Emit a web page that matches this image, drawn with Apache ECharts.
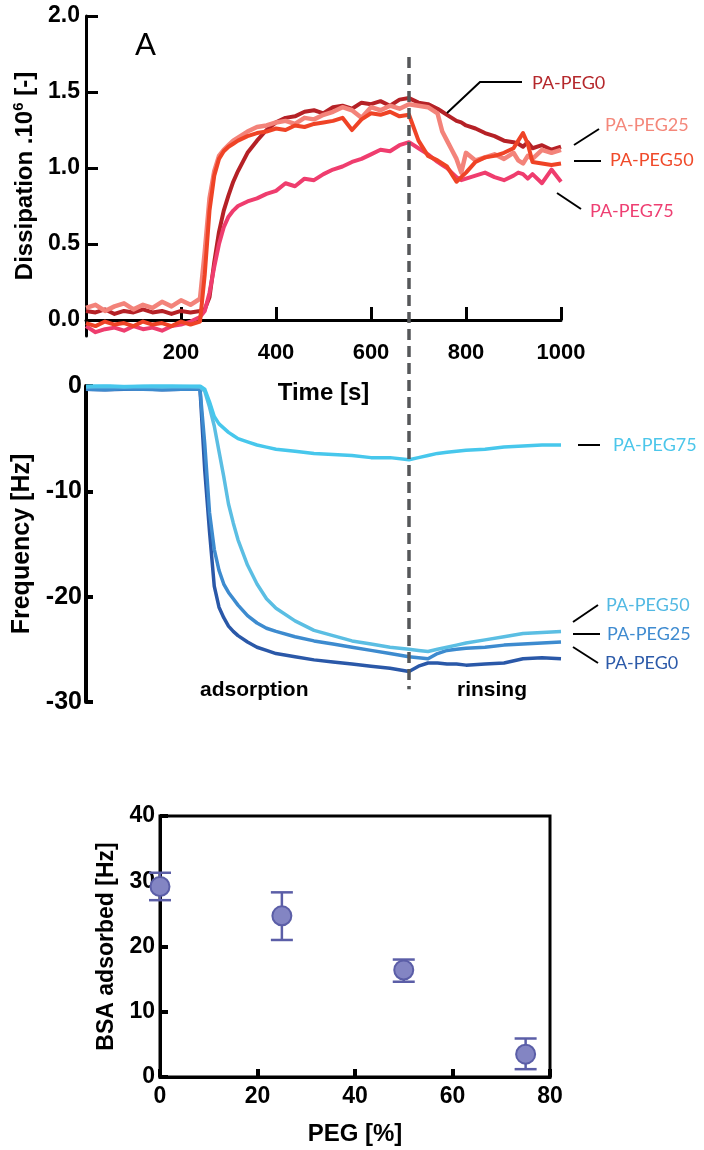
<!DOCTYPE html>
<html>
<head>
<meta charset="utf-8">
<script src="https://cdn.jsdelivr.net/npm/echarts@6/dist/echarts.min.js"></script>
<style>
  html, body { margin: 0; padding: 0; background: #fff; }
  #main { width: 704px; height: 1150px; }
</style>
</head>
<body>
<div id="main"></div>
<script>
// --- dissipation (top panel), time in s
const tTop = [0,20,40,60,80,100,120,140,160,180,200,220,240,250,260,270,280,290,300,310,320,340,360,380,400,420,440,460,480,500,520,540,560,580,600,620,640,660,680,700,720,740,750,760,770,780,790,800,820,840,860,880,900,910,920,930,940,960,980,1000];
const dissPEG0 = [0.06,0.05,0.07,0.04,0.06,0.05,0.07,0.05,0.06,0.04,0.06,0.05,0.06,
  0.07,0.15,0.38,0.58,0.72,0.82,0.91,0.98,
  1.10,1.18,1.25,1.30,1.33,1.34,1.37,1.38,1.36,1.40,1.41,1.39,1.43,1.42,1.44,1.41,1.45,1.46,1.43,1.42,1.39,
  1.37,1.35,1.33,1.31,1.30,1.28,
  1.26,1.23,1.21,1.18,1.17,
  1.16,1.14,1.17,1.13,
  1.15,1.12,1.14];
const dissPEG25 = [0.08,0.10,0.06,0.09,0.11,0.07,0.10,0.08,0.12,0.09,0.13,0.10,0.14,
  0.45,0.80,0.98,1.08,1.12,1.15,1.18,1.20,
  1.24,1.27,1.28,1.30,1.31,1.29,1.33,1.32,1.35,1.37,1.40,1.38,1.33,1.40,1.38,1.41,1.39,1.42,1.41,1.40,1.36,
  1.24,1.18,1.12,1.06,0.97,1.10,
  1.05,1.07,1.09,1.06,1.10,
  1.05,1.03,1.08,1.06,
  1.12,1.10,1.12];
const dissPEG50 = [-0.02,-0.04,-0.01,-0.03,-0.02,-0.04,-0.01,-0.03,-0.02,-0.04,-0.01,-0.03,-0.01,
  0.30,0.72,0.95,1.06,1.11,1.14,1.16,1.18,
  1.21,1.23,1.24,1.26,1.25,1.28,1.27,1.29,1.30,1.31,1.33,1.25,1.32,1.36,1.35,1.37,1.34,1.35,1.18,1.08,1.05,
  1.03,1.01,0.96,0.91,0.94,0.97,
  1.04,1.07,1.08,1.10,1.13,
  1.18,1.23,1.16,1.04,
  1.03,1.02,1.03];
const dissPEG75 = [-0.04,-0.08,-0.06,-0.05,-0.07,-0.04,-0.06,-0.05,-0.07,-0.04,-0.03,-0.01,0.02,
  0.06,0.18,0.35,0.50,0.61,0.68,0.72,0.75,
  0.78,0.80,0.83,0.85,0.90,0.88,0.93,0.92,0.96,0.99,1.01,1.04,1.06,1.09,1.12,1.11,1.15,1.17,1.13,1.09,1.04,
  1.02,1.00,0.97,0.94,0.92,0.93,
  0.95,0.97,0.94,0.92,0.95,
  0.97,0.96,0.93,0.96,
  0.90,0.99,0.91];

// --- frequency shift (middle panel)
const tMid = [0,40,80,120,160,200,240,250,260,270,280,290,300,310,320,340,360,380,400,440,480,520,560,600,640,680,700,720,740,760,780,800,840,880,920,960,1000];
const freqPEG75 = [0.0,0.05,-0.05,0.0,0.05,0.0,0.0,
  -0.3,-1.5,-2.9,-3.6,-4.0,-4.4,-4.7,-5.0,
  -5.3,-5.6,-5.8,-6.0,
  -6.2,-6.4,-6.5,-6.6,-6.8,-6.8,-7.0,
  -6.8,-6.6,-6.4,-6.3,-6.2,-6.1,
  -6.0,-5.8,-5.7,-5.6,-5.6];
const freqPEG50 = [-0.1,-0.05,-0.1,-0.05,-0.1,-0.05,-0.1,
  -0.5,-2.0,-3.8,-6.2,-8.6,-11.2,-13.0,-14.6,
  -17.0,-18.8,-20.2,-21.1,
  -22.3,-23.2,-23.7,-24.2,-24.5,-24.8,-25.0,
  -25.1,-25.2,-25.0,-24.8,-24.6,-24.4,
  -24.1,-23.8,-23.5,-23.4,-23.3];
const freqPEG25 = [-0.3,-0.35,-0.25,-0.3,-0.35,-0.3,-0.3,
  -5.5,-12.0,-15.5,-17.5,-18.8,-19.6,-20.2,-20.8,
  -21.8,-22.5,-23.0,-23.3,
  -23.8,-24.2,-24.5,-24.8,-25.1,-25.4,-25.7,
  -25.8,-25.9,-25.4,-25.1,-25.0,-24.9,
  -24.8,-24.6,-24.5,-24.4,-24.3];
const freqPEG0 = [-0.3,-0.35,-0.3,-0.25,-0.35,-0.3,-0.3,
  -8.0,-13.8,-19.0,-21.0,-22.0,-22.8,-23.3,-23.7,
  -24.3,-24.8,-25.1,-25.4,
  -25.7,-26.0,-26.2,-26.4,-26.6,-26.8,-27.1,
  -26.6,-26.3,-26.3,-26.4,-26.4,-26.5,
  -26.4,-26.3,-25.9,-25.8,-25.9];

// --- BSA adsorbed vs PEG content (bottom panel)
const pegPct = [0, 25, 50, 75];
const bsaMean = [29.2, 24.7, 16.4, 3.5];
const bsaLow = [27.1, 21.0, 14.6, 1.2];
const bsaHigh = [31.3, 28.3, 18.0, 5.9];

const rinseStart = 680;
const topTicks = [0, 0.5, 1.0, 1.5, 2.0];
const timeTicks = [200, 400, 600, 800, 1000];

const AX = '"Liberation Sans", Arial, sans-serif';
const LBL = 'Lato, sans-serif';

const chart = echarts.init(document.getElementById('main'));

const pairs = (ts, vs) => ts.map((t, i) => [t, vs[i]]);
const line = (name, ts, vs, color, width, idx, z) => ({
  name, type: 'line', xAxisIndex: idx, yAxisIndex: idx,
  data: pairs(ts, vs), showSymbol: false, symbol: 'none',
  lineStyle: { color, width, join: 'round' }, z, animation: false
});

chart.setOption({
  animation: false,
  grid: [
    { left: 86, top: 16, width: 475, height: 320 },
    { left: 86, top: 386, width: 475, height: 316 },
    { left: 160, top: 816, width: 390, height: 261, show: true, borderColor: '#000', borderWidth: 3 }
  ],
  xAxis: [
    {
      gridIndex: 0, type: 'value', min: 0, max: 1000,
      axisLine: { lineStyle: { color: '#000', width: 3 } },
      axisTick: { inside: true, length: 13, lineStyle: { color: '#000', width: 3 }, customValues: timeTicks },
      axisLabel: { customValues: timeTicks, formatter: v => String(v), color: '#000', fontFamily: AX, fontWeight: 'bold', fontSize: 22, margin: 6 },
      splitLine: { show: false },
      name: 'Time [s]', nameLocation: 'middle', nameGap: 45,
      nameTextStyle: { color: '#000', fontFamily: AX, fontWeight: 'bold', fontSize: 24 }
    },
    { gridIndex: 1, type: 'value', min: 0, max: 1000, show: false },
    {
      gridIndex: 2, type: 'value', min: 0, max: 80, interval: 20,
      axisLine: { lineStyle: { color: '#000', width: 3 } },
      axisTick: { inside: true, length: 8, lineStyle: { color: '#000', width: 4 } },
      axisLabel: { color: '#000', fontFamily: AX, fontWeight: 'bold', fontSize: 23, margin: 8 },
      splitLine: { show: false },
      name: 'PEG [%]', nameLocation: 'middle', nameGap: 45,
      nameTextStyle: { color: '#000', fontFamily: AX, fontWeight: 'bold', fontSize: 24 }
    }
  ],
  yAxis: [
    {
      gridIndex: 0, type: 'value', min: -0.105, max: 2.0,
      axisLine: { show: true, lineStyle: { color: '#000', width: 3 } },
      axisTick: { show: true, inside: true, length: 12, lineStyle: { color: '#000', width: 3 }, customValues: topTicks },
      axisLabel: { customValues: topTicks, formatter: v => v.toFixed(1), color: '#000', fontFamily: AX, fontWeight: 'bold', fontSize: 23, margin: 6 },
      splitLine: { show: false },
      name: '{b|Dissipation .10}{s|6}{b| [-]}', nameLocation: 'middle', nameGap: 44,
      nameTextStyle: {
        rich: {
          b: { color: '#000', fontFamily: AX, fontWeight: 'bold', fontSize: 24 },
          s: { color: '#000', fontFamily: AX, fontWeight: 'bold', fontSize: 15, padding: [0, 0, 12, 0] }
        }
      }
    },
    {
      gridIndex: 1, type: 'value', min: -30, max: 0, interval: 10,
      axisLine: { show: true, lineStyle: { color: '#000', width: 4 } },
      axisTick: { show: true, inside: true, length: 7, lineStyle: { color: '#000', width: 4 } },
      axisLabel: { color: '#000', fontFamily: AX, fontWeight: 'bold', fontSize: 25, margin: 4 },
      splitLine: { show: false },
      name: 'Frequency [Hz]', nameLocation: 'middle', nameGap: 44,
      nameTextStyle: { color: '#000', fontFamily: AX, fontWeight: 'bold', fontSize: 25 }
    },
    {
      gridIndex: 2, type: 'value', min: 0, max: 40, interval: 10,
      axisLine: { show: true, lineStyle: { color: '#000', width: 3 } },
      axisTick: { show: true, inside: true, length: 8, lineStyle: { color: '#000', width: 4 } },
      axisLabel: { color: '#000', fontFamily: AX, fontWeight: 'bold', fontSize: 23, margin: 5 },
      splitLine: { show: false },
      name: 'BSA adsorbed [Hz]', nameLocation: 'middle', nameGap: 42,
      nameTextStyle: { color: '#000', fontFamily: AX, fontWeight: 'bold', fontSize: 23 }
    }
  ],
  series: [
    line('PA-PEG0', tTop, dissPEG0, '#b52126', 4, 0, 2),
    line('PA-PEG75', tTop, dissPEG75, '#ef3d6e', 4, 0, 3),
    line('PA-PEG25', tTop, dissPEG25, '#f3837a', 4.5, 0, 4),
    line('PA-PEG50', tTop, dissPEG50, '#ef4326', 4, 0, 5),

    line('PA-PEG0 f', tMid, freqPEG0, '#2a58a8', 3.5, 1, 2),
    line('PA-PEG25 f', tMid, freqPEG25, '#3d8bcf', 3.5, 1, 3),
    line('PA-PEG50 f', tMid, freqPEG50, '#5bbee3', 3.5, 1, 4),
    line('PA-PEG75 f', tMid, freqPEG75, '#47c7ec', 3.5, 1, 5),

    {
      type: 'custom', xAxisIndex: 2, yAxisIndex: 2, clip: false, z: 3,
      data: pegPct.map((p, i) => [p, bsaLow[i], bsaHigh[i]]),
      encode: { x: 0, y: [1, 2] },
      renderItem: (params, api) => {
        const lo = api.coord([api.value(0), api.value(1)]);
        const hi = api.coord([api.value(0), api.value(2)]);
        const w = 11;
        const style = { stroke: '#5b5ea7', lineWidth: 2.5 };
        return {
          type: 'group', children: [
            { type: 'line', shape: { x1: hi[0], y1: hi[1], x2: lo[0], y2: lo[1] }, style },
            { type: 'line', shape: { x1: hi[0] - w, y1: hi[1], x2: hi[0] + w, y2: hi[1] }, style },
            { type: 'line', shape: { x1: lo[0] - w, y1: lo[1], x2: lo[0] + w, y2: lo[1] }, style }
          ]
        };
      }
    },
    {
      type: 'scatter', xAxisIndex: 2, yAxisIndex: 2, clip: false, z: 4,
      data: pegPct.map((p, i) => [p, bsaMean[i]]),
      symbol: 'circle', symbolSize: 19,
      itemStyle: { color: '#8385c3', borderColor: '#5b5ea7', borderWidth: 2, opacity: 1 }
    }
  ]
});

// annotations: rinse marker, panel letter, series labels
const xr = chart.convertToPixel({ xAxisIndex: 0 }, rinseStart);
const yTopDash = chart.convertToPixel({ yAxisIndex: 0 }, 1.73);
const yBotDash = chart.convertToPixel({ yAxisIndex: 1 }, -28.8);

const lead = (pts) => ({ type: 'polyline', shape: { points: pts }, style: { stroke: '#000', lineWidth: 2, fill: null }, z: 50 });
const tag = (text, x, y, fill) => ({ type: 'text', x, y, style: { text, fill, font: '18px ' + LBL, verticalAlign: 'middle' }, z: 50 });

chart.setOption({
  graphic: [
    { type: 'line', shape: { x1: xr, y1: yTopDash, x2: xr, y2: yBotDash },
      style: { stroke: '#555759', lineWidth: 3.5, lineDash: [11, 6] }, z: 100 },
    { type: 'text', x: 135, y: 45, style: { text: 'A', fill: '#000', font: '31px ' + LBL, verticalAlign: 'middle' }, z: 50 },

    lead([[447, 113], [480, 82], [522, 82]]),
    tag('PA-PEG0', 532, 83, '#b5282c'),
    lead([[574, 145], [599, 129]]),
    tag('PA-PEG25', 605, 125, '#f4877a'),
    lead([[574, 161], [601, 161]]),
    tag('PA-PEG50', 610, 160, '#f04a2a'),
    lead([[557, 193], [581, 209]]),
    tag('PA-PEG75', 590, 211, '#ee3f72'),

    lead([[578, 445], [600, 445]]),
    tag('PA-PEG75', 613, 445, '#4cc6ea'),
    lead([[573, 622], [598, 605]]),
    tag('PA-PEG50', 606, 605, '#52b9e3'),
    lead([[573, 634], [600, 634]]),
    tag('PA-PEG25', 607, 634, '#3f8bd0'),
    lead([[573, 647], [598, 663]]),
    tag('PA-PEG0', 605, 663, '#2c5aa9'),

    { type: 'text', x: 200, y: 690, style: { text: 'adsorption', fill: '#000', font: 'bold 21px ' + AX, verticalAlign: 'middle' }, z: 50 },
    { type: 'text', x: 457, y: 690, style: { text: 'rinsing', fill: '#000', font: 'bold 21px ' + AX, verticalAlign: 'middle' }, z: 50 }
  ]
});
</script>
</body>
</html>
